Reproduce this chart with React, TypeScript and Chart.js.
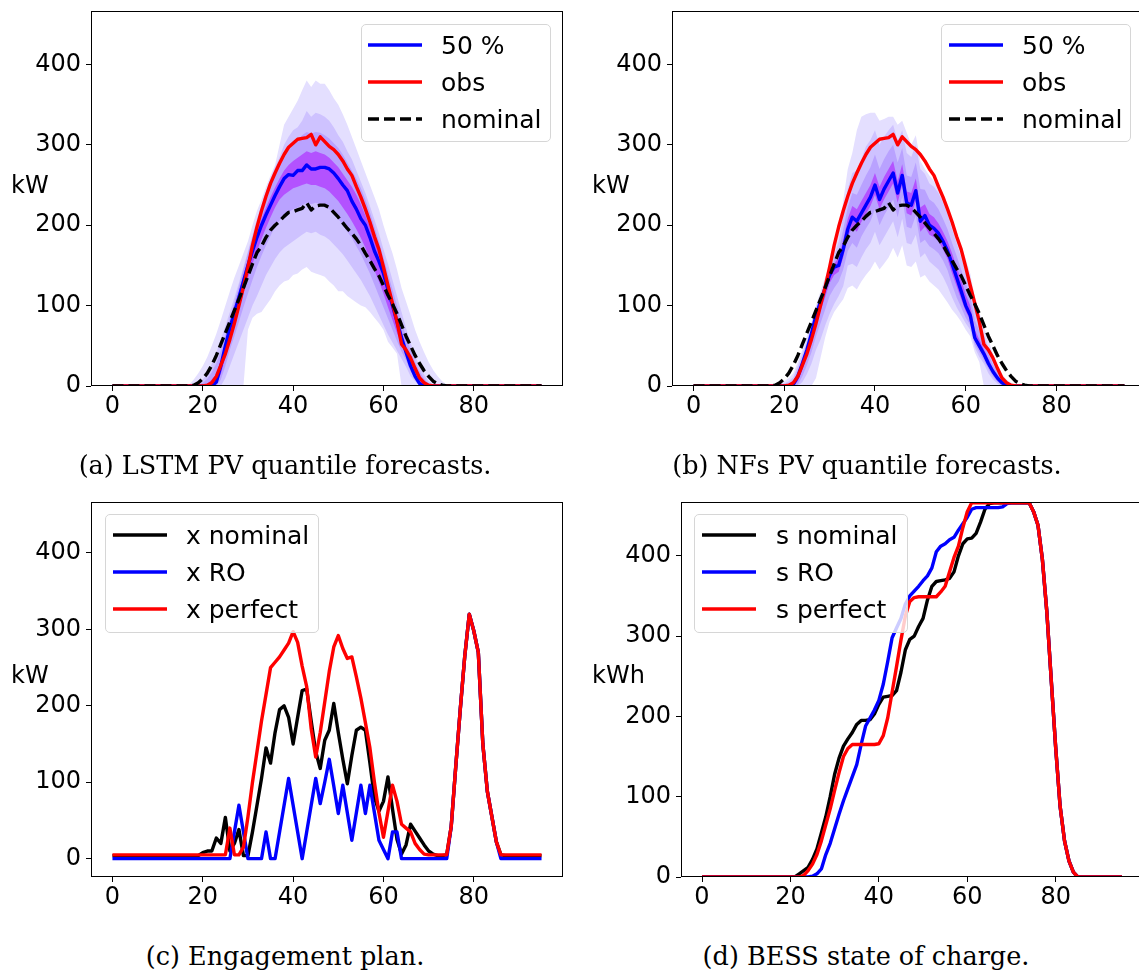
import React, { useEffect, useRef } from "react";
import { Chart, registerables } from "chart.js";

Chart.register(...registerables);

// quarter-hour slot of the day (categories of every panel)
const SLOTS: number[] = Array.from({ length: 96 }, (_, i) => i);
const X_TICKS = [0, 20, 40, 60, 80];
const Y_TICKS = [0, 100, 200, 300, 400];

// ---------- PV (kW), shared by panels (a) and (b) ----------
const PV_OBS = [
  0,0,0,0,0,0,0,0,0,0,0,0,0,0,0,0,0,0,0,0,0,
  1,4,12,26,40,58,78,100,123,148,
  175,198,218,236,252,265,277,288,297,302,
  307,308,309,313,300,310,304,298,294,288,
  280,270,262,248,235,220,204,186,170,148,
  125,103,80,52,45,35,22,10,4,1,
  0,0,0,0,0,0,0,0,0,0,0,0,0,0,0,0,0,0,0,0,0,0,0,0,0,
];
const PV_NOMINAL = [
  0,0,0,0,0,0,0,0,0,0,0,0,0,0,0,0,0,0,
  1,4,9,16,26,38,52,66,80,94,
  108,122,137,152,166,174,185,194,200,205,
  211,216,217,219,221,228,219,224,225,225,
  222,216,210,203,196,190,183,175,165,156,
  146,137,125,113,102,90,76,62,50,38,
  28,19,12,6,3,1,
  0,0,0,0,0,0,0,0,0,0,0,0,0,0,0,0,0,0,0,0,0,0,
];

// ---------- (a) LSTM quantiles ----------
const LSTM_Q50 = [
  0,0,0,0,0,0,0,0,0,0,0,0,0,0,0,0,0,0,0,0,0,0,0,
  5,25,50,72,92,110,130,150,168,185,
  200,213,225,237,248,258,263,262,268,268,
  275,270,270,272,272,270,265,258,250,243,
  230,220,208,200,185,168,155,140,120,100,
  80,60,42,25,12,3,
  0,0,0,0,0,0,0,0,0,0,0,0,0,0,0,0,0,0,0,0,0,0,0,0,0,0,0,
];
const LSTM_Q90 = [
  0,0,0,0,0,0,0,0,0,0,0,0,0,0,0,0,0,
  2,8,16,25,36,50,65,82,100,118,
  135,150,165,180,200,218,232,248,262,275,
  300,325,335,345,355,368,380,372,380,376,
  376,368,358,350,338,325,310,295,280,265,
  250,235,220,200,182,165,145,122,105,88,
  70,55,42,30,20,12,6,2,0,
  0,0,0,0,0,0,0,0,0,0,0,0,0,0,0,0,0,0,0,0,
];
const LSTM_Q80 = [
  0,0,0,0,0,0,0,0,0,0,0,0,0,0,0,0,0,
  0,0,3,8,16,28,42,58,75,92,
  110,128,148,168,188,208,225,242,258,272,
  285,300,310,318,322,330,342,335,340,338,
  335,330,322,312,304,292,282,268,254,240,
  224,207,190,170,152,132,112,92,72,54,
  38,25,14,6,2,0,0,0,0,
  0,0,0,0,0,0,0,0,0,0,0,0,0,0,0,0,0,0,0,0,
];
const LSTM_Q70 = [
  0,0,0,0,0,0,0,0,0,0,0,0,0,0,0,0,0,
  0,0,1,4,9,17,28,44,64,85,
  104,124,145,165,185,203,220,235,249,262,
  274,284,293,300,306,312,316,314,316,315,
  312,308,302,296,288,278,268,258,246,232,
  216,198,180,160,140,120,100,80,62,45,
  30,18,9,3,1,0,0,0,0,
  0,0,0,0,0,0,0,0,0,0,0,0,0,0,0,0,0,0,0,0,
];
const LSTM_Q60 = [
  0,0,0,0,0,0,0,0,0,0,0,0,0,0,0,0,0,
  0,0,0,1,3,8,15,32,55,78,
  98,118,138,158,176,194,208,222,235,247,
  258,268,275,280,284,288,292,290,292,290,
  288,284,278,272,264,256,248,238,226,212,
  198,182,165,146,126,106,86,68,50,35,
  22,12,5,1,0,0,0,0,0,
  0,0,0,0,0,0,0,0,0,0,0,0,0,0,0,0,0,0,0,0,
];
const LSTM_Q40 = [
  0,0,0,0,0,0,0,0,0,0,0,0,0,0,0,0,0,
  0,0,0,0,0,0,2,15,35,58,
  78,96,115,134,152,168,183,197,210,222,
  232,238,242,246,248,250,252,250,250,248,
  246,242,236,230,222,214,205,195,184,172,
  158,144,130,115,98,82,66,52,38,22,
  11,2,0,0,0,0,0,0,0,
  0,0,0,0,0,0,0,0,0,0,0,0,0,0,0,0,0,0,0,0,
];
const LSTM_Q30 = [
  0,0,0,0,0,0,0,0,0,0,0,0,0,0,0,0,0,
  0,0,0,0,0,0,0,8,25,45,
  62,80,98,115,132,148,162,175,187,198,
  206,212,216,220,222,225,228,226,228,226,
  224,220,214,208,200,192,184,174,164,152,
  140,126,112,98,84,70,56,43,32,18,
  10,1,0,0,0,0,0,0,0,
  0,0,0,0,0,0,0,0,0,0,0,0,0,0,0,0,0,0,0,0,
];
const LSTM_Q20 = [
  0,0,0,0,0,0,0,0,0,0,0,0,0,0,0,0,0,
  0,0,0,0,0,0,0,0,10,25,
  40,55,70,85,100,112,125,138,148,158,
  166,172,176,180,184,188,192,190,192,188,
  186,182,176,170,164,156,148,140,132,122,
  112,100,88,76,64,54,44,34,24,12,
  6,0,0,0,0,0,0,0,0,
  0,0,0,0,0,0,0,0,0,0,0,0,0,0,0,0,0,0,0,0,
];
const LSTM_Q10 = [
  0,0,0,0,0,0,0,0,0,0,0,0,0,0,0,0,0,
  0,0,0,0,0,0,0,0,0,0,
  0,0,0,70,85,90,92,100,108,118,
  125,130,132,138,140,145,148,142,140,138,
  136,130,125,118,118,112,108,104,100,98,
  92,85,78,70,55,48,40,0,0,0,
  0,0,0,0,0,0,0,0,0,
  0,0,0,0,0,0,0,0,0,0,0,0,0,0,0,0,0,0,0,0,
];

// ---------- (b) NFs quantiles ----------
const NF_Q50 = [
  0,0,0,0,0,0,0,0,0,0,0,0,0,0,0,0,0,
  0,0,0,0,0,2,12,28,45,65,
  88,105,122,138,148,150,170,195,210,205,
  215,225,235,250,232,245,255,265,240,262,
  228,225,243,205,212,200,196,190,180,168,
  152,135,118,100,88,60,50,40,28,18,
  10,4,1,0,0,0,0,0,0,
  0,0,0,0,0,0,0,0,0,0,0,0,0,0,0,0,0,0,0,0,
];
const NF_Q90 = [
  0,0,0,0,0,0,0,0,0,0,0,0,0,0,0,0,0,
  0,1,3,6,10,16,30,45,62,80,
  100,118,135,150,170,190,230,270,290,318,
  335,338,340,340,330,332,335,335,325,330,
  315,300,312,280,270,262,255,245,232,220,
  205,190,175,158,140,110,92,74,58,40,
  26,15,8,4,1,0,0,0,0,
  0,0,0,0,0,0,0,0,0,0,0,0,0,0,0,0,0,0,0,0,
];
const NF_Q80 = [
  0,0,0,0,0,0,0,0,0,0,0,0,0,0,0,0,0,
  0,0,1,3,6,11,25,40,56,78,
  98,112,128,145,162,180,212,245,265,268,
  282,298,306,318,300,310,318,325,305,318,
  290,285,300,270,264,252,248,240,228,214,
  195,178,160,142,126,96,80,64,48,33,
  21,11,5,2,0,0,0,0,0,
  0,0,0,0,0,0,0,0,0,0,0,0,0,0,0,0,0,0,0,0,
];
const NF_Q70 = [
  0,0,0,0,0,0,0,0,0,0,0,0,0,0,0,0,0,
  0,0,0,1,3,7,20,35,50,74,
  95,110,126,142,156,168,195,222,240,238,
  250,262,272,288,270,282,292,300,278,296,
  262,260,278,245,244,232,228,220,208,195,
  178,162,145,128,112,82,68,54,40,27,
  17,8,3,1,0,0,0,0,0,
  0,0,0,0,0,0,0,0,0,0,0,0,0,0,0,0,0,0,0,0,
];
const NF_Q60 = [
  0,0,0,0,0,0,0,0,0,0,0,0,0,0,0,0,0,
  0,0,0,0,1,4,16,34,48,70,
  92,108,124,141,152,160,182,208,224,220,
  230,240,250,265,248,260,270,280,255,276,
  242,240,258,222,226,214,210,202,192,180,
  165,148,132,114,100,70,58,46,34,22,
  13,6,2,0,0,0,0,0,0,
  0,0,0,0,0,0,0,0,0,0,0,0,0,0,0,0,0,0,0,0,
];
const NF_Q40 = [
  0,0,0,0,0,0,0,0,0,0,0,0,0,0,0,0,0,
  0,0,0,0,0,0,6,20,36,55,
  78,94,110,128,138,142,160,185,198,192,
  204,214,224,238,220,232,242,252,228,250,
  215,212,230,192,198,188,185,180,170,158,
  140,124,108,93,82,56,46,36,25,15,
  7,2,0,0,0,0,0,0,0,
  0,0,0,0,0,0,0,0,0,0,0,0,0,0,0,0,0,0,0,0,
];
const NF_Q30 = [
  0,0,0,0,0,0,0,0,0,0,0,0,0,0,0,0,0,
  0,0,0,0,0,0,2,12,26,42,
  62,78,95,112,122,130,145,168,178,172,
  186,196,205,220,200,212,222,232,210,235,
  198,196,212,178,182,174,170,165,156,144,
  126,110,98,85,76,52,42,32,21,12,
  5,1,0,0,0,0,0,0,0,
  0,0,0,0,0,0,0,0,0,0,0,0,0,0,0,0,0,0,0,0,
];
const NF_Q20 = [
  0,0,0,0,0,0,0,0,0,0,0,0,0,0,0,0,0,
  0,0,0,0,0,0,0,5,15,28,
  45,58,75,90,102,112,124,150,152,148,
  160,170,178,192,175,185,195,205,185,208,
  178,176,188,160,165,155,150,145,136,124,
  110,98,88,78,70,48,36,28,16,8,
  3,0,0,0,0,0,0,0,0,
  0,0,0,0,0,0,0,0,0,0,0,0,0,0,0,0,0,0,0,0,
];
const NF_Q10 = [
  0,0,0,0,0,0,0,0,0,0,0,0,0,0,0,0,0,
  0,0,0,0,0,0,0,0,0,0,
  10,35,60,80,92,100,108,122,125,120,
  130,138,145,155,145,152,160,172,160,175,
  150,148,155,135,138,130,125,120,112,104,
  95,88,80,70,62,42,30,0,0,0,
  0,0,0,0,0,0,0,0,0,
  0,0,0,0,0,0,0,0,0,0,0,0,0,0,0,0,0,0,0,0,
];

// ---------- (c) engagement plan (kW) ----------
const X_NOMINAL = [
  4,4,4,4,4,4,4,4,4,4,4,4,4,4,4,4,4,4,4,4,
  8,10,10,27,20,54,10,20,38,4,
  4,35,70,105,145,125,165,195,200,185,
  150,185,220,222,180,140,118,155,168,203,
  165,130,98,135,168,172,168,125,80,62,
  75,107,65,25,6,18,45,36,27,18,
  10,6,4,4,5,42,120,195,265,320,
  298,270,150,88,55,22,5,
  4,4,4,4,4,4,4,4,4,
];
const X_RO = [
  0,0,0,0,0,0,0,0,0,0,0,0,0,0,0,0,0,0,0,0,0,0,0,0,0,0,
  0,35,70,35,0,0,0,0,35,0,
  0,35,70,105,70,35,0,35,70,105,
  72,100,130,95,59,96,60,24,60,96,
  59,96,60,24,12,0,35,35,0,0,
  0,0,0,0,0,0,0,0,0,42,
  120,195,265,320,298,270,150,88,55,22,0,
  0,0,0,0,0,0,0,0,0,
];
const X_PERFECT = [
  5,5,5,5,5,5,5,5,5,5,5,5,5,5,5,5,5,5,5,5,5,5,5,5,5,
  5,40,5,5,15,55,100,140,180,215,
  250,257,264,273,282,297,283,252,225,170,
  133,165,205,245,277,292,275,262,264,238,
  210,178,145,100,60,28,62,96,75,45,
  40,35,20,12,6,5,5,5,5,5,
  42,120,195,265,320,298,270,150,88,55,22,5,
  5,5,5,5,5,5,5,5,5,
];

// ---------- (d) BESS state of charge (kWh) ----------
const S_NOMINAL = [
  0,0,0,0,0,0,0,0,0,0,0,0,0,0,0,0,0,0,0,0,0,0,
  4,8,12,22,35,55,75,100,128,148,
  163,172,180,190,195,195,196,203,215,224,
  225,226,232,255,283,296,300,312,322,345,
  362,368,369,370,372,380,400,415,421,422,
  428,442,458,465,466,466,466,466,466,466,
  466,466,466,455,438,395,330,245,161,88,
  45,20,6,
  0,0,0,0,0,0,0,0,0,0,0,
];
const S_RO = [
  0,0,0,0,0,0,0,0,0,0,0,0,0,0,0,0,0,0,0,0,0,0,0,0,0,
  1,4,10,28,42,60,78,95,110,125,
  140,165,188,198,208,220,240,268,298,310,
  322,340,350,356,362,369,375,385,405,412,
  415,420,423,432,440,448,458,460,460,460,
  460,460,460,461,465,466,466,466,466,466,
  455,438,395,330,245,161,88,45,20,6,
  0,0,0,0,0,0,0,0,0,0,0,
];
const S_PERFECT = [
  0,0,0,0,0,0,0,0,0,0,0,0,0,0,0,0,0,0,0,0,0,0,0,
  2,8,16,28,45,65,85,108,130,150,
  160,165,165,165,165,165,165,166,176,198,
  230,262,295,325,343,348,349,349,349,349,
  349,355,362,380,398,412,435,455,466,466,
  466,466,466,466,466,466,466,466,466,466,466,466,
  455,438,395,330,245,161,88,45,20,6,
  0,0,0,0,0,0,0,0,0,0,0,
];

const CAPTIONS = [
  "(a) LSTM PV quantile forecasts.",
  "(b) NFs PV quantile forecasts.",
  "(c) Engagement plan.",
  "(d) BESS state of charge.",
];

// ---------- styling / layout ----------
const SANS = "'DejaVu Sans', sans-serif";
const SERIF = "'DejaVu Serif', serif";
const YW = 90;
const XH = 50;
const PT = 26;
const PR = 4;
const LW = 3.4;
const DASH = [11, 5];
const BAND_COLORS = ["#e4dfff", "#cec2ff", "#b9a2ff", "#b352ff"];

type Box = { left: number; top: number; width: number; height: number };

const pts = (vals: number[]) => vals.map((v, i) => ({ x: SLOTS[i], y: v }));

const lineDs = (label: string, vals: number[], color: string, dash?: number[]) => ({
  label,
  data: pts(vals),
  borderColor: color,
  borderWidth: LW,
  borderDash: dash || [],
  borderJoinStyle: "round",
  borderCapStyle: "butt",
  pointRadius: 0,
  fill: false,
});

const edgeDs = (label: string, vals: number[], fillTo?: number, color?: string) => ({
  label,
  data: pts(vals),
  borderColor: "rgba(0,0,0,0)",
  borderWidth: 0,
  pointRadius: 0,
  fill: fillTo === undefined ? false : fillTo,
  backgroundColor: color || "rgba(0,0,0,0)",
});

const quantileSets = (q: number[][]) => {
  // q = [q10,q20,q30,q40,q50,q60,q70,q80,q90]
  return [
    lineDs("nominal", PV_NOMINAL, "#000000", DASH),
    lineDs("obs", PV_OBS, "#ff0000"),
    lineDs("50 %", q[4], "#0000ff"),
    edgeDs("60 %", q[5], 4, BAND_COLORS[3]),
    edgeDs("40 %", q[3]),
    edgeDs("70 %", q[6], 6, BAND_COLORS[2]),
    edgeDs("30 %", q[2]),
    edgeDs("80 %", q[7], 8, BAND_COLORS[1]),
    edgeDs("20 %", q[1]),
    edgeDs("90 %", q[8], 10, BAND_COLORS[0]),
    edgeDs("10 %", q[0]),
  ];
};

const framePlugin = {
  id: "frame",
  afterDatasetsDraw(chart: any) {
    const { ctx, chartArea: a } = chart;
    ctx.save();
    ctx.strokeStyle = "#000";
    ctx.lineWidth = 1;
    ctx.strokeRect(a.left + 0.5, a.top + 0.5, a.right - a.left - 1, a.bottom - a.top - 1);
    ctx.restore();
  },
};

const axisCommon = {
  grid: { display: true, drawOnChartArea: false, drawTicks: true, tickLength: 5, color: "#000", lineWidth: 1 },
  border: { display: false },
};

function buildOptions(yMin: number, yMax: number) {
  return {
    animation: false,
    responsive: false,
    maintainAspectRatio: false,
    devicePixelRatio: 1,
    events: [],
    layout: { padding: { top: PT, right: PR, left: 0, bottom: 0 } },
    plugins: { legend: { display: false }, tooltip: { enabled: false } },
    elements: { point: { radius: 0, hoverRadius: 0 }, line: { tension: 0 } },
    scales: {
      x: {
        type: "linear",
        min: -4.75,
        max: 99.75,
        ...axisCommon,
        afterFit: (s: any) => { s.height = XH; },
        afterBuildTicks: (s: any) => { s.ticks = X_TICKS.map((v) => ({ value: v })); },
        ticks: { font: { family: SANS, size: 24 }, color: "#000", padding: 1, maxRotation: 0, autoSkip: false, callback: (v: any) => String(v) },
      },
      y: {
        type: "linear",
        min: yMin,
        max: yMax,
        ...axisCommon,
        afterFit: (s: any) => { s.width = YW; },
        afterBuildTicks: (s: any) => { s.ticks = Y_TICKS.map((v) => ({ value: v })); },
        ticks: { font: { family: SANS, size: 24 }, color: "#000", padding: 5, autoSkip: false, callback: (v: any) => String(v) },
      },
    },
  };
}

function Panel({ box, makeSets, yMin, yMax }: { box: Box; makeSets: () => any[]; yMin: number; yMax: number }) {
  const ref = useRef<HTMLCanvasElement>(null);
  const W = box.width + YW + PR;
  const H = box.height + PT + XH;
  useEffect(() => {
    const chart = new Chart(ref.current as HTMLCanvasElement, {
      type: "line",
      data: { datasets: makeSets() as any },
      options: buildOptions(yMin, yMax) as any,
      plugins: [framePlugin as any],
    });
    return () => chart.destroy();
  }, []);
  return (
    <canvas
      ref={ref}
      width={W}
      height={H}
      style={{ position: "absolute", left: box.left - YW, top: box.top - PT, width: W, height: H }}
    />
  );
}

type Entry = { label: string; color: string; dash?: boolean };

function Legend({ x, y, w, h, lineX, textX, entries }: { x: number; y: number; w: number; h: number; lineX: number; textX: number; entries: Entry[] }) {
  const rows = [20.5, 57.5, 94.5];
  return (
    <>
      <div
        style={{
          position: "absolute", left: x, top: y, width: w, height: h, boxSizing: "border-box",
          border: "1px solid #d6d6d6", borderRadius: 5, background: "rgba(255,255,255,0.8)",
        }}
      />
      {entries.map((e, i) => (
        <React.Fragment key={i}>
          <svg style={{ position: "absolute", left: lineX, top: y + rows[i] - 5 }} width={54} height={10}>
            <line x1={0} y1={5} x2={54} y2={5} stroke={e.color} strokeWidth={LW} strokeDasharray={e.dash ? DASH.join(" ") : undefined} />
          </svg>
          <div
            style={{
              position: "absolute", left: textX, top: y + rows[i], transform: "translateY(-50%)",
              fontFamily: SANS, fontSize: 25, lineHeight: 1, whiteSpace: "nowrap", color: "#000",
            }}
          >
            {e.label}
          </div>
        </React.Fragment>
      ))}
    </>
  );
}

function Label({ x, baseline, text, size, family, center }: { x: number; baseline: number; text: string; size: number; family: string; center?: boolean }) {
  return (
    <div
      style={{
        position: "absolute",
        left: center ? x - 300 : x,
        width: center ? 600 : undefined,
        textAlign: center ? "center" : "left",
        top: baseline - 0.846 * size,
        fontFamily: family,
        fontSize: size,
        lineHeight: 1,
        whiteSpace: "nowrap",
        color: "#000",
      }}
    >
      {text}
    </div>
  );
}

const BOX_A: Box = { left: 91, top: 11, width: 472, height: 375 };
const BOX_B: Box = { left: 672, top: 11, width: 474, height: 375 };
const BOX_C: Box = { left: 91, top: 502, width: 472, height: 375 };
const BOX_D: Box = { left: 681, top: 502, width: 462, height: 375 };

const PV_LEGEND: Entry[] = [
  { label: "50 %", color: "#0000ff" },
  { label: "obs", color: "#ff0000" },
  { label: "nominal", color: "#000000", dash: true },
];
const X_LEGEND: Entry[] = [
  { label: "x nominal", color: "#000000" },
  { label: "x RO", color: "#0000ff" },
  { label: "x perfect", color: "#ff0000" },
];
const S_LEGEND: Entry[] = [
  { label: "s nominal", color: "#000000" },
  { label: "s RO", color: "#0000ff" },
  { label: "s perfect", color: "#ff0000" },
];

export default function App() {
  return (
    <div style={{ position: "absolute", left: 0, top: 0, width: 1139, height: 976, overflow: "hidden", background: "#fff" }}>
      <Panel
        box={BOX_A}
        yMin={0}
        yMax={466.5}
        makeSets={() => quantileSets([LSTM_Q10, LSTM_Q20, LSTM_Q30, LSTM_Q40, LSTM_Q50, LSTM_Q60, LSTM_Q70, LSTM_Q80, LSTM_Q90])}
      />
      <Panel
        box={BOX_B}
        yMin={0}
        yMax={466.5}
        makeSets={() => quantileSets([NF_Q10, NF_Q20, NF_Q30, NF_Q40, NF_Q50, NF_Q60, NF_Q70, NF_Q80, NF_Q90])}
      />
      <Panel
        box={BOX_C}
        yMin={-24}
        yMax={466.7}
        makeSets={() => [
          lineDs("x perfect", X_PERFECT, "#ff0000"),
          lineDs("x RO", X_RO, "#0000ff"),
          lineDs("x nominal", X_NOMINAL, "#000000"),
        ]}
      />
      <Panel
        box={BOX_D}
        yMin={0}
        yMax={467}
        makeSets={() => [
          lineDs("s perfect", S_PERFECT, "#ff0000"),
          lineDs("s RO", S_RO, "#0000ff"),
          lineDs("s nominal", S_NOMINAL, "#000000"),
        ]}
      />

      <Legend x={361} y={24} w={190} h={118} lineX={368} textX={441} entries={PV_LEGEND} />
      <Legend x={941} y={24} w={190} h={118} lineX={949} textX={1022} entries={PV_LEGEND} />
      <Legend x={105} y={514} w={214} h={119} lineX={113} textX={186} entries={X_LEGEND} />
      <Legend x={694} y={514} w={214} h={119} lineX={702} textX={776} entries={S_LEGEND} />

      <Label x={11} baseline={193} text="kW" size={24} family={SANS} />
      <Label x={592} baseline={193} text="kW" size={24} family={SANS} />
      <Label x={11} baseline={683} text="kW" size={24} family={SANS} />
      <Label x={592} baseline={683} text="kWh" size={24} family={SANS} />

      <Label x={285} baseline={475} text={CAPTIONS[0]} size={25.5} family={SERIF} center />
      <Label x={867} baseline={475} text={CAPTIONS[1]} size={25.5} family={SERIF} center />
      <Label x={285} baseline={966} text={CAPTIONS[2]} size={25.5} family={SERIF} center />
      <Label x={866} baseline={966} text={CAPTIONS[3]} size={25.5} family={SERIF} center />
    </div>
  );
}
